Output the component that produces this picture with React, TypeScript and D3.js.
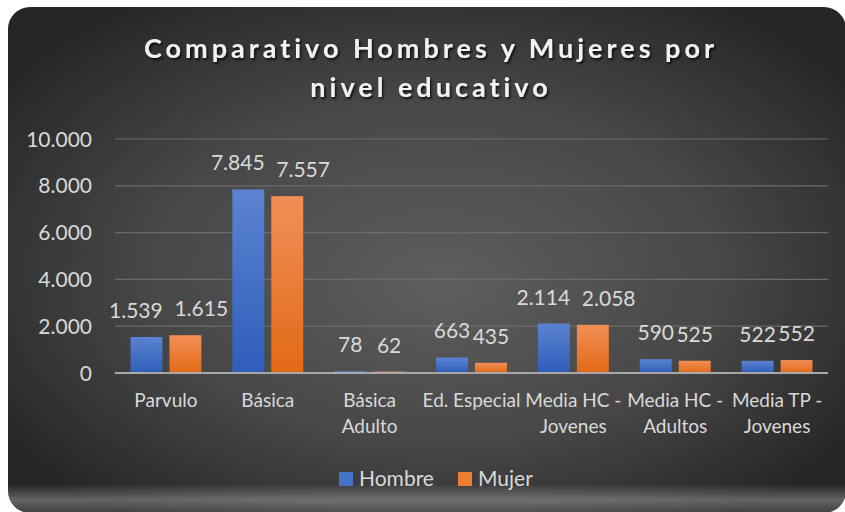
import React from "react";
import * as d3 from "d3";

const categories = ["Parvulo", "Básica", "Básica Adulto", "Ed. Especial", "Media HC - Jovenes", "Media HC - Adultos", "Media TP - Jovenes"];
const hombre = [1539, 7845, 78, 663, 2114, 590, 522];
const mujer = [1615, 7557, 62, 435, 2058, 525, 552];
const seriesNames = ["Hombre", "Mujer"];
const yTicks = [0, 2000, 4000, 6000, 8000, 10000];

const W = 845, H = 512;
const plot = { left: 115, right: 828, top: 139, bottom: 373 };
const fmt = (v: number) => d3.format(",")(v).replace(/,/g, ".");
const wrap = (s: string) => {
  if (s.length <= 12) return [s];
  const i = s.lastIndexOf(" ");
  return [s.slice(0, i), s.slice(i + 1)];
};
const FONT = "Lato, 'Open Sans', sans-serif";
const LABEL_SIZE = 21;
const estW = (s: string) => {
  let w = 0;
  for (const ch of s) w += ch === "." ? 0.26 : 0.57;
  return w * LABEL_SIZE;
};

export default function App() {
  const x0 = d3.scaleBand<string>().domain(categories).range([plot.left, plot.right]).paddingInner(0.304).paddingOuter(0.152);
  const x1 = d3.scaleBand<string>().domain(seriesNames).range([0, x0.bandwidth()]).paddingInner(0.18);
  const y = d3.scaleLinear().domain([0, 10000]).range([plot.bottom, plot.top]);
  const series = [
    { name: "Hombre", values: hombre, fill: "url(#gBlue)", sw: "#4472c4" },
    { name: "Mujer", values: mujer, fill: "url(#gOrange)", sw: "#ed7d31" },
  ];
  const txt = "#d9d9d9";
  const bw = x1.bandwidth();

  return (
    <div style={{ position: "fixed", left: 0, top: 0 }}>
      <svg width={W} height={H} style={{ display: "block" }}>
        <defs>
          <radialGradient id="bg" cx="0.5" cy="0.5" r="0.62" fx="0.52" fy="0.55">
            <stop offset="0" stopColor="#5e5e5e" />
            <stop offset="0.55" stopColor="#474747" />
            <stop offset="1" stopColor="#262626" />
          </radialGradient>
          <linearGradient id="bottomBand" x1="0" y1="0" x2="0" y2="1">
            <stop offset="0" stopColor="#ffffff" stopOpacity="0" />
            <stop offset="0.55" stopColor="#ffffff" stopOpacity="0.28" />
            <stop offset="1" stopColor="#ffffff" stopOpacity="0.12" />
          </linearGradient>
          <linearGradient id="gBlue" x1="0" y1="0" x2="0" y2="1">
            <stop offset="0" stopColor="#5b83d1" />
            <stop offset="1" stopColor="#2f5dba" />
          </linearGradient>
          <linearGradient id="gOrange" x1="0" y1="0" x2="0" y2="1">
            <stop offset="0" stopColor="#f28f56" />
            <stop offset="1" stopColor="#e36915" />
          </linearGradient>
          <filter id="shadow" x="-10%" y="-30%" width="120%" height="160%">
            <feDropShadow dx="1.5" dy="2" stdDeviation="1.2" floodColor="#000" floodOpacity="0.75" />
          </filter>
          <clipPath id="card">
            <rect x={8} y={7} width={838} height={506} rx={22} ry={22} />
          </clipPath>
        </defs>
        <rect x={0} y={0} width={W} height={H} fill="#ffffff" />
        <g clipPath="url(#card)">
          <rect x={8} y={7} width={838} height={506} fill="url(#bg)" />
          <rect x={8} y={484} width={838} height={29} fill="url(#bottomBand)" />
        </g>
        <g fontFamily={FONT} fontWeight="bold" fontSize={27} fill="#f2f2f2" textAnchor="middle" letterSpacing={4} filter="url(#shadow)">
          <text x={431} y={58}>Comparativo Hombres y Mujeres por</text>
          <text x={431} y={97}>nivel educativo</text>
        </g>
        {yTicks.map((t) => (
          <g key={t}>
            {t > 0 && <line x1={plot.left} x2={plot.right} y1={y(t)} y2={y(t)} stroke="#6b6b6b" strokeWidth={1.2} />}
            <text x={92} y={y(t)} dy="0.36em" textAnchor="end" fontFamily={FONT} fontSize={21} fill={txt}>{fmt(t)}</text>
          </g>
        ))}
        {categories.map((c, i) => {
          const vals = series.map((s) => s.values[i]);
          const centers = series.map((s) => (x0(c) as number) + (x1(s.name) as number) + bw / 2);
          const widths = vals.map((v) => estW(fmt(v)));
          const raw = widths[0] / 2 + widths[1] / 2 - (centers[1] - centers[0]);
          const total = raw > 0 ? raw + 12 : 0;
          const shifts = [-total * 0.4, total * 0.6];
          return (
            <g key={c}>
              {series.map((s, k) => {
                const bx = centers[k] - bw / 2;
                const v = vals[k];
                return (
                  <g key={s.name}>
                    <rect x={bx} y={y(v)} width={bw} height={plot.bottom - y(v)} fill={s.fill} />
                    <text x={centers[k] + shifts[k]} y={y(v) - 19} textAnchor="middle" fontFamily={FONT} fontSize={LABEL_SIZE} fill={txt}>{fmt(v)}</text>
                  </g>
                );
              })}
              {wrap(c).map((line, k) => (
                <text key={k} x={(x0(c) as number) + x0.bandwidth() / 2} y={407 + k * 26} textAnchor="middle" fontFamily={FONT} fontSize={19} fill={txt}>{line}</text>
              ))}
            </g>
          );
        })}
        <line x1={plot.left} x2={plot.right} y1={plot.bottom} y2={plot.bottom} stroke="#a8a8a8" strokeWidth={2} />
        {series.map((s, i) => {
          const lx = i === 0 ? 339 : 458;
          return (
            <g key={s.name}>
              <rect x={lx} y={472} width={14} height={14} fill={s.sw} />
              <text x={lx + 20} y={486} fontFamily={FONT} fontSize={21} fill={txt}>{s.name}</text>
            </g>
          );
        })}
      </svg>
    </div>
  );
}
